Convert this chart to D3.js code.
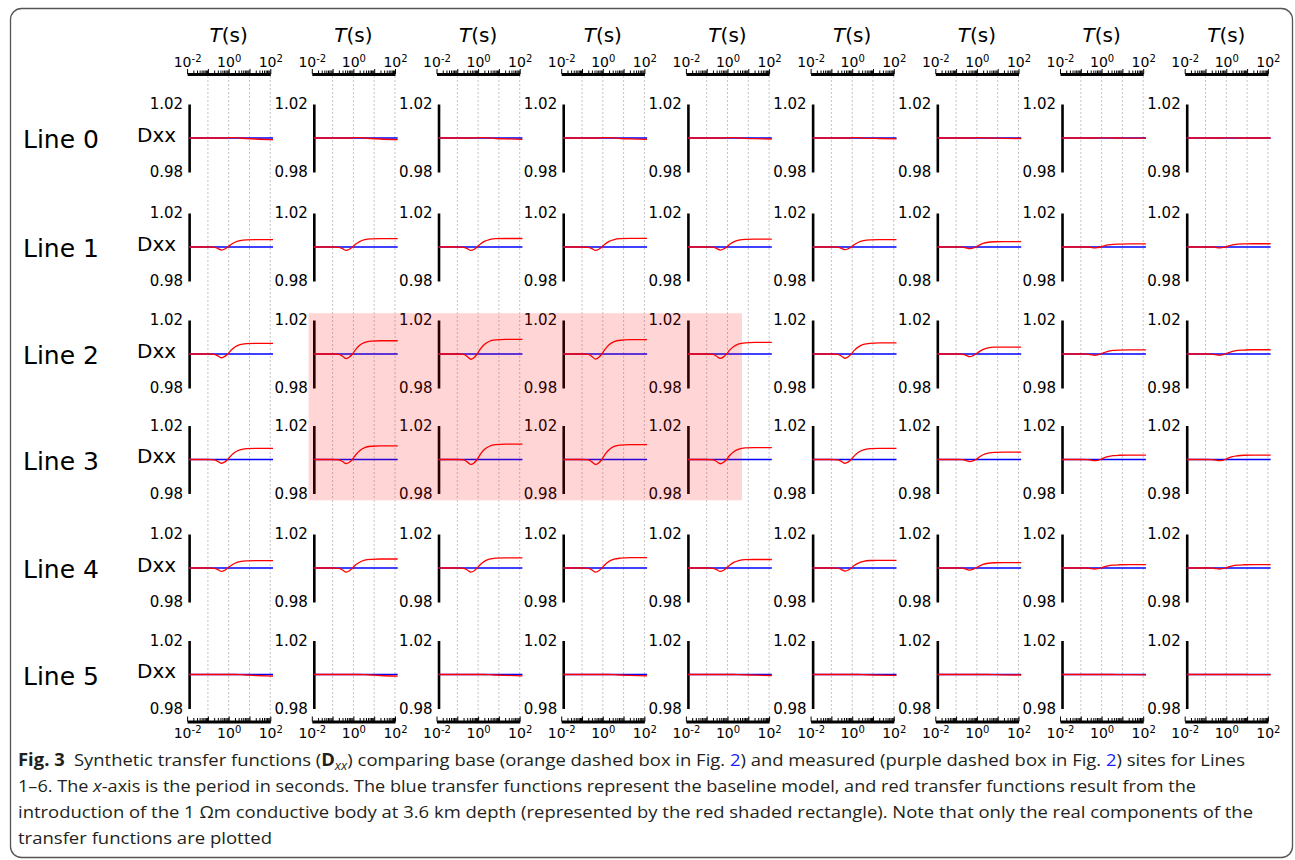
<!DOCTYPE html>
<html>
<head>
<meta charset="utf-8">
<script src="https://cdn.jsdelivr.net/npm/d3@7"></script>
<style>
  body { margin: 0; background: #fff; }
  svg text { font-family: "DejaVu Sans", sans-serif; }
</style>
</head>
<body>
<svg id="chart"></svg>
<script>
// periods (s) where each transfer function is sampled
const periods = [0.0125, 0.1, 0.2, 0.3, 0.45, 0.65, 0.9, 1.3, 2, 3.5, 7, 20, 135];

const rowLabels = ["Line 0", "Line 1", "Line 2", "Line 3", "Line 4", "Line 5"];
const xLabelTicks = [0.01, 1, 100];
const yTicks = [0.98, 1.02];

// baseline model (blue), same for every site
const baseline = [1, 1, 1, 1, 1, 1, 1, 1, 1, 1, 1, 1, 1];

// model with conductive body (red), one curve per site
const line0 = [
  [1, 1, 1, 1, 1, 1, 1.0001, 1.0002, 1.0002, 1.0000, 0.9997, 0.9994, 0.9991],
  [1, 1, 1, 1, 1, 1, 1.0001, 1.0002, 1.0002, 1.0000, 0.9997, 0.9994, 0.9991],
  [1, 1, 1, 1, 1, 1, 1.0001, 1.0002, 1.0002, 1.0000, 0.9997, 0.9995, 0.9992],
  [1, 1, 1, 1, 1, 1, 1.0001, 1.0002, 1.0002, 1.0000, 0.9997, 0.9995, 0.9992],
  [1, 1, 1, 1, 1, 1, 1.0001, 1.0002, 1.0002, 1.0000, 0.9998, 0.9996, 0.9994],
  [1, 1, 1, 1, 1, 1, 1.0001, 1.0002, 1.0002, 1.0000, 0.9998, 0.9997, 0.9995],
  [1, 1, 1, 1, 1, 1, 1.0001, 1.0002, 1.0001, 1.0000, 0.9999, 0.9998, 0.9997],
  [1, 1, 1, 1, 1, 1, 1.0001, 1.0001, 1.0001, 1.0000, 1.0000, 0.9999, 0.9999],
  [1, 1, 1, 1, 1, 1, 1.0001, 1.0001, 1.0001, 1.0000, 1.0000, 1.0000, 1.0000]
];
const line1 = [
  [1, 1, 0.9999, 0.9991, 0.9982, 0.9988, 1, 1.0015, 1.0028, 1.0037, 1.0042, 1.0043, 1.0043],
  [1, 1, 0.9998, 0.9990, 0.9980, 0.9987, 1, 1.0017, 1.0032, 1.0043, 1.0048, 1.0049, 1.0049],
  [1, 1, 0.9998, 0.9990, 0.9980, 0.9987, 1, 1.0018, 1.0033, 1.0044, 1.0049, 1.0050, 1.0050],
  [1, 1, 0.9998, 0.9990, 0.9980, 0.9987, 1, 1.0018, 1.0033, 1.0044, 1.0049, 1.0051, 1.0051],
  [1, 1, 0.9999, 0.9991, 0.9982, 0.9988, 1, 1.0016, 1.0030, 1.0040, 1.0045, 1.0046, 1.0046],
  [1, 1, 0.9999, 0.9992, 0.9984, 0.9990, 1, 1.0015, 1.0028, 1.0037, 1.0042, 1.0043, 1.0043],
  [1, 1, 0.9999, 0.9995, 0.9990, 0.9994, 1, 1.0011, 1.0021, 1.0028, 1.0031, 1.0032, 1.0032],
  [1, 1, 1, 0.9998, 0.9995, 0.9997, 1, 1.0006, 1.0012, 1.0016, 1.0017, 1.0018, 1.0018],
  [1, 1, 1, 0.9998, 0.9995, 0.9997, 1, 1.0007, 1.0012, 1.0017, 1.0018, 1.0019, 1.0019]
];
const line2 = [
  [1, 1, 0.9998, 0.9989, 0.9978, 0.9986, 1, 1.0022, 1.0041, 1.0055, 1.0061, 1.0063, 1.0063],
  [1, 1, 0.9998, 0.9987, 0.9973, 0.9982, 1, 1.0027, 1.0051, 1.0068, 1.0076, 1.0078, 1.0078],
  [1, 1, 0.9998, 0.9985, 0.9969, 0.9980, 1, 1.0030, 1.0056, 1.0075, 1.0083, 1.0086, 1.0086],
  [1, 1, 0.9998, 0.9985, 0.9970, 0.9981, 1, 1.0029, 1.0055, 1.0073, 1.0081, 1.0084, 1.0084],
  [1, 1, 0.9998, 0.9987, 0.9974, 0.9983, 1, 1.0024, 1.0044, 1.0059, 1.0066, 1.0068, 1.0068],
  [1, 1, 0.9998, 0.9988, 0.9975, 0.9984, 1, 1.0023, 1.0042, 1.0057, 1.0063, 1.0065, 1.0065],
  [1, 1, 0.9999, 0.9992, 0.9984, 0.9990, 1, 1.0014, 1.0027, 1.0036, 1.0040, 1.0041, 1.0041],
  [1, 1, 0.9999, 0.9996, 0.9992, 0.9995, 1, 1.0008, 1.0016, 1.0021, 1.0023, 1.0024, 1.0024],
  [1, 1, 0.9999, 0.9996, 0.9992, 0.9995, 1, 1.0008, 1.0016, 1.0021, 1.0023, 1.0025, 1.0025]
];
const line3 = [
  [1, 1, 0.9998, 0.9989, 0.9978, 0.9986, 1, 1.0023, 1.0043, 1.0057, 1.0064, 1.0066, 1.0066],
  [1, 1, 0.9998, 0.9988, 0.9976, 0.9984, 1, 1.0028, 1.0052, 1.0070, 1.0078, 1.0080, 1.0080],
  [1, 1, 0.9998, 0.9986, 0.9971, 0.9981, 1, 1.0032, 1.0059, 1.0078, 1.0087, 1.0090, 1.0090],
  [1, 1, 0.9998, 0.9986, 0.9971, 0.9981, 1, 1.0031, 1.0057, 1.0077, 1.0085, 1.0088, 1.0088],
  [1, 1, 0.9998, 0.9988, 0.9975, 0.9984, 1, 1.0025, 1.0046, 1.0061, 1.0068, 1.0070, 1.0070],
  [1, 1, 0.9998, 0.9989, 0.9978, 0.9986, 1, 1.0023, 1.0043, 1.0057, 1.0064, 1.0066, 1.0066],
  [1, 1, 0.9999, 0.9994, 0.9988, 0.9992, 1, 1.0015, 1.0028, 1.0037, 1.0042, 1.0043, 1.0043],
  [1, 1, 0.9999, 0.9997, 0.9993, 0.9995, 1, 1.0009, 1.0017, 1.0023, 1.0025, 1.0026, 1.0026],
  [1, 1, 0.9999, 0.9997, 0.9993, 0.9995, 1, 1.0009, 1.0017, 1.0022, 1.0025, 1.0026, 1.0026]
];
const line4 = [
  [1, 1, 0.9998, 0.9990, 0.9980, 0.9987, 1, 1.0015, 1.0028, 1.0037, 1.0042, 1.0043, 1.0043],
  [1, 1, 0.9998, 0.9988, 0.9976, 0.9984, 1, 1.0019, 1.0034, 1.0046, 1.0051, 1.0053, 1.0053],
  [1, 1, 0.9998, 0.9988, 0.9976, 0.9984, 1, 1.0021, 1.0039, 1.0052, 1.0058, 1.0060, 1.0060],
  [1, 1, 0.9998, 0.9988, 0.9976, 0.9984, 1, 1.0021, 1.0039, 1.0052, 1.0058, 1.0061, 1.0061],
  [1, 1, 0.9998, 0.9990, 0.9980, 0.9987, 1, 1.0018, 1.0033, 1.0044, 1.0049, 1.0050, 1.0050],
  [1, 1, 0.9999, 0.9991, 0.9982, 0.9988, 1, 1.0016, 1.0029, 1.0039, 1.0044, 1.0045, 1.0045],
  [1, 1, 0.9999, 0.9994, 0.9987, 0.9992, 1, 1.0011, 1.0021, 1.0028, 1.0031, 1.0032, 1.0032],
  [1, 1, 1, 0.9997, 0.9994, 0.9996, 1, 1.0007, 1.0013, 1.0017, 1.0019, 1.0020, 1.0020],
  [1, 1, 1, 0.9997, 0.9994, 0.9996, 1, 1.0007, 1.0013, 1.0017, 1.0019, 1.0020, 1.0020]
];
const line5 = [
  [1, 1, 1, 1, 1, 1, 1, 1, 1.0000, 0.9999, 0.9997, 0.9994, 0.9990],
  [1, 1, 1, 1, 1, 1, 1, 1, 1.0000, 0.9999, 0.9997, 0.9994, 0.9991],
  [1, 1, 1, 1, 1, 1, 1, 1, 1.0000, 0.9999, 0.9997, 0.9995, 0.9992],
  [1, 1, 1, 1, 1, 1, 1, 1, 1.0000, 0.9999, 0.9997, 0.9995, 0.9992],
  [1, 1, 1, 1, 1, 1, 1, 1, 1.0000, 0.9999, 0.9998, 0.9996, 0.9994],
  [1, 1, 1, 1, 1, 1, 1, 1, 1.0000, 0.9999, 0.9998, 0.9996, 0.9995],
  [1, 1, 1, 1, 1, 1, 1, 1, 1.0000, 1.0000, 0.9999, 0.9998, 0.9997],
  [1, 1, 1, 1, 1, 1, 1, 1, 1.0000, 1.0000, 0.9999, 0.9999, 0.9998],
  [1, 1, 1, 1, 1, 1, 1, 1, 1.0000, 1.0000, 1.0000, 0.9999, 0.9999]
];
const measured = [line0, line1, line2, line3, line4, line5];

// sites covered by the conductive body (columns 1-4, lines 2-3)
const shadeCols = [1, 4], shadeRows = [2, 3];
const shadeT = [0.007, 5], shadeD = [0.976, 1.024];

// layout
const width = 1295, height = 860;
const colX0 = 187.1, colStep = 124.7, axisW = 83.2;
const rowMid = [138, 247, 354, 459.5, 568, 674.5];
const half = 34;
const topAxisY = 74, bottomAxisY = 721.5;
const nCols = line1.length;

const svg = d3.select('#chart').attr('width', width).attr('height', height);

// outer frame
svg.append('rect')
  .attr('x', 10.5).attr('y', 8.5)
  .attr('width', 1282).attr('height', 849)
  .attr('rx', 11)
  .attr('fill', 'none')
  .attr('stroke', '#555')
  .attr('stroke-width', 1.3);

const xScale = d3.scaleLog().domain([0.01, 100]).range([0, axisW]);
const yScale = d3.scaleLinear().domain([0.98, 1.02]).range([2 * half, 0]);

const decades = [0.01, 0.1, 1, 10, 100];
const minors = [];
[0.01, 0.1, 1, 10].forEach(d => { for (let k = 2; k <= 9; k++) minors.push(d * k); });

function powLabel(sel) {
  sel.each(function(d) {
    const t = d3.select(this);
    const e = Math.round(Math.log10(d));
    t.text(null);
    if (!xLabelTicks.includes(d)) return;
    t.append('tspan').text('10');
    t.append('tspan').attr('dy', '-0.45em').style('font-size', '10px').text(e < 0 ? '-' + (-e) : e);
  });
}

for (let c = 0; c < nCols; c++) {
  const cx = colX0 + c * colStep;
  const col = svg.append('g').attr('transform', 'translate(' + cx + ',0)');

  // dotted grid lines running down the whole column
  col.selectAll('.grid')
    .data(decades.slice(1))
    .enter().append('line')
    .attr('class', 'grid')
    .attr('x1', d => xScale(d)).attr('x2', d => xScale(d))
    .attr('y1', topAxisY + 2).attr('y2', bottomAxisY - 2)
    .attr('stroke', '#c4c4c4')
    .attr('stroke-width', 1)
    .attr('stroke-dasharray', '2,2');

  // top axis
  col.append('text')
    .attr('x', axisW / 2).attr('y', 41.5)
    .attr('text-anchor', 'middle')
    .style('font-size', '20px')
    .call(t => {
      t.append('tspan').style('font-style', 'italic').text('T');
      t.append('tspan').text('(s)');
    });

  const topMinor = col.append('g').attr('transform', 'translate(0,' + topAxisY + ')')
    .call(d3.axisTop(xScale).tickValues(minors).tickSize(3.5).tickSizeOuter(0).tickFormat(''));
  topMinor.select('.domain').remove();
  const topMajor = col.append('g').attr('transform', 'translate(0,' + topAxisY + ')')
    .call(d3.axisTop(xScale).tickValues(decades).tickSize(5).tickSizeOuter(0).tickPadding(2.5));
  topMajor.select('.domain').attr('stroke-width', 3.2);
  topMajor.selectAll('text').style('font-size', '14px').attr('fill', '#000').call(powLabel);

  // bottom axis, ticks point up into the plot
  const botMinor = col.append('g').attr('transform', 'translate(0,' + bottomAxisY + ')')
    .call(d3.axisBottom(xScale).tickValues(minors).tickSizeInner(-3.5).tickSizeOuter(0).tickFormat(''));
  botMinor.select('.domain').remove();
  const botMajor = col.append('g').attr('transform', 'translate(0,' + bottomAxisY + ')')
    .call(d3.axisBottom(xScale).tickValues(decades).tickSizeInner(-5).tickSizeOuter(0).tickPadding(6.5));
  botMajor.select('.domain').attr('stroke-width', 3.2);
  botMajor.selectAll('text').style('font-size', '14px').attr('fill', '#000').call(powLabel);

  // panels for each line
  measured.forEach((rowData, r) => {
    const g = col.append('g').attr('transform', 'translate(0,' + (rowMid[r] - half) + ')');
    const x0 = xScale(periods[0]);

    const yAxis = g.append('g').attr('transform', 'translate(' + x0 + ',0)')
      .call(d3.axisLeft(yScale).tickValues(yTicks).tickSize(0).tickPadding(6).tickFormat(d3.format('.2f')));
    yAxis.select('.domain').attr('stroke-width', 2.6);
    yAxis.selectAll('text').style('font-size', '15px').attr('fill', '#000');

    const line = d3.line()
      .curve(d3.curveMonotoneX)
      .x((d, i) => xScale(periods[i]))
      .y(d => yScale(d));

    g.append('path')
      .attr('d', line(baseline))
      .attr('fill', 'none')
      .attr('stroke', '#0000ff')
      .attr('stroke-width', 1.3);
    g.append('path')
      .attr('d', line(rowData[c]))
      .attr('fill', 'none')
      .attr('stroke', '#ff0000')
      .attr('stroke-width', 1.3);
  });
}

// row labels
rowLabels.forEach((lab, r) => {
  svg.append('text')
    .attr('x', 23).attr('y', rowMid[r] + 10)
    .style('font-size', '25px')
    .text(lab);
  svg.append('text')
    .attr('x', 137).attr('y', rowMid[r] + 3.5)
    .style('font-size', '20px')
    .text('Dxx');
});

// red shaded rectangle over the sites above the conductive body
svg.append('rect')
  .attr('x', colX0 + shadeCols[0] * colStep + xScale(shadeT[0]))
  .attr('y', rowMid[shadeRows[0]] - half + yScale(shadeD[1]))
  .attr('width', (colX0 + shadeCols[1] * colStep + xScale(shadeT[1])) - (colX0 + shadeCols[0] * colStep + xScale(shadeT[0])))
  .attr('height', (rowMid[shadeRows[1]] - half + yScale(shadeD[0])) - (rowMid[shadeRows[0]] - half + yScale(shadeD[1])))
  .attr('fill', '#ff0000')
  .attr('fill-opacity', 0.165);

// caption
const cap = svg.append('g')
  .style('font-size', '17px')
  .attr('fill', '#231f20');

function capLine(y, w, parts) {
  const t = cap.append('text')
    .attr('x', 18).attr('y', y)
    .attr('textLength', w)
    .attr('lengthAdjust', 'spacingAndGlyphs')
    .style('font-family', '"Open Sans", sans-serif');
  parts.forEach(p => {
    if (typeof p === 'string') { t.append('tspan').text(p); return; }
    const s = t.append('tspan').text(p.t);
    if (p.b) s.style('font-weight', 'bold');
    if (p.i) s.style('font-style', 'italic');
    if (p.blue) s.attr('fill', '#1d1dff');
    if (p.sub) s.attr('dy', 4).style('font-size', '12px');
    if (p.up) s.attr('dy', -4);
  });
}

capLine(766, 1227, [
  { t: 'Fig. 3', b: true }, '\u2002Synthetic transfer functions (', { t: 'D', b: true },
  { t: 'xx', i: true, sub: true }, { t: ') comparing base (orange dashed box in Fig. ', up: true },
  { t: '2', blue: true }, ') and measured (purple dashed box in Fig. ', { t: '2', blue: true },
  ') sites for Lines'
]);
capLine(792, 1178, [
  '1\u20136. The ', { t: 'x', i: true },
  '-axis is the period in seconds. The blue transfer functions represent the baseline model, and red transfer functions result from the'
]);
capLine(818, 1235, [
  'introduction of the 1 \u03a9m conductive body at 3.6 km depth (represented by the red shaded rectangle). Note that only the real components of the'
]);
capLine(844, 254, ['transfer functions are plotted']);
</script>
</body>
</html>
